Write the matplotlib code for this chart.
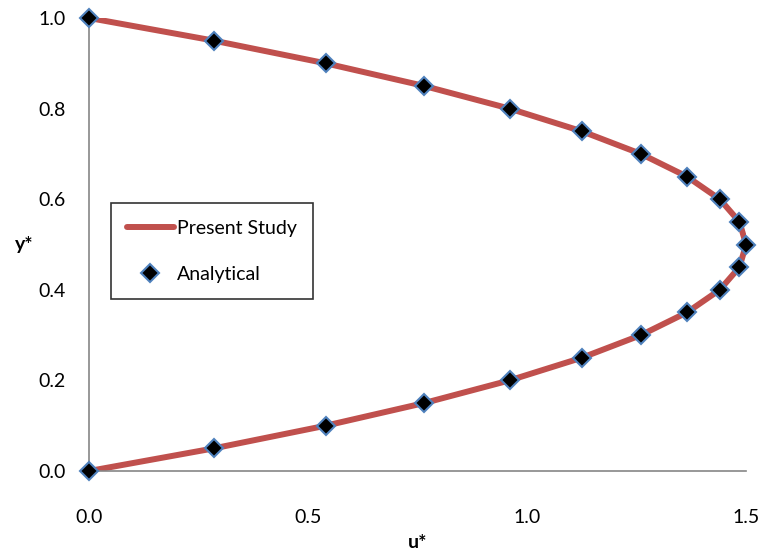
import numpy as np
import matplotlib
matplotlib.use("Agg")
import matplotlib.pyplot as plt

# wall-normal position and velocity
y_star = [0.0, 0.05, 0.10, 0.15, 0.20, 0.25, 0.30, 0.35, 0.40, 0.45, 0.50,
          0.55, 0.60, 0.65, 0.70, 0.75, 0.80, 0.85, 0.90, 0.95, 1.0]
u_present = [0.0, 0.285, 0.54, 0.765, 0.96, 1.125, 1.26, 1.365, 1.44, 1.485, 1.5,
             1.485, 1.44, 1.365, 1.26, 1.125, 0.96, 0.765, 0.54, 0.285, 0.0]
u_analytical = [0.0, 0.285, 0.54, 0.765, 0.96, 1.125, 1.26, 1.365, 1.44, 1.485, 1.5,
                1.485, 1.44, 1.365, 1.26, 1.125, 0.96, 0.765, 0.54, 0.285, 0.0]

x_ticks = [0.0, 0.5, 1.0, 1.5]
y_ticks = [0.0, 0.2, 0.4, 0.6, 0.8, 1.0]

plt.rcParams['font.family'] = ['Lato', 'DejaVu Sans']

fig = plt.figure(figsize=(7.64, 5.5), dpi=100)
ax = fig.add_axes([0.1165, 0.1436, 0.86, 0.8237])

ax.plot(u_present, y_star, color='#C0504D', lw=4.3, label='Present Study',
        solid_capstyle='round', zorder=2)
ax.plot(u_analytical, y_star, ls='none', marker='D', ms=9.5, mfc='black',
        mec='#4F81BD', mew=1.5, label='Analytical', zorder=3, clip_on=False)

ax.set_xlim(0, 1.5)
ax.set_ylim(0, 1.0)
ax.set_xticks(x_ticks)
ax.set_yticks(y_ticks)
ax.set_xticklabels([f"{v:.1f}" for v in x_ticks])
ax.set_yticklabels([f"{v:.1f}" for v in y_ticks])
ax.tick_params(length=0, labelsize=14)
ax.tick_params(axis='y', pad=17)
ax.tick_params(axis='x', pad=27)

for s in ['top', 'right']:
    ax.spines[s].set_visible(False)
for s in ['left', 'bottom']:
    ax.spines[s].set_color('#868686')
    ax.spines[s].set_linewidth(1.2)

ax.set_xlabel('u*', fontsize=14, fontweight='bold', labelpad=6)
ax.set_ylabel('y*', fontsize=14, fontweight='bold', rotation=0, labelpad=10,
              va='center')

leg = ax.legend(loc='center left', bbox_to_anchor=(0.018, 0.485), fontsize=14,
                frameon=True, fancybox=False, edgecolor='black',
                handlelength=2.4, handletextpad=0.15, borderpad=0.85,
                labelspacing=1.5)
leg.get_frame().set_linewidth(1.2)

fig.savefig("out.png", dpi=100)
